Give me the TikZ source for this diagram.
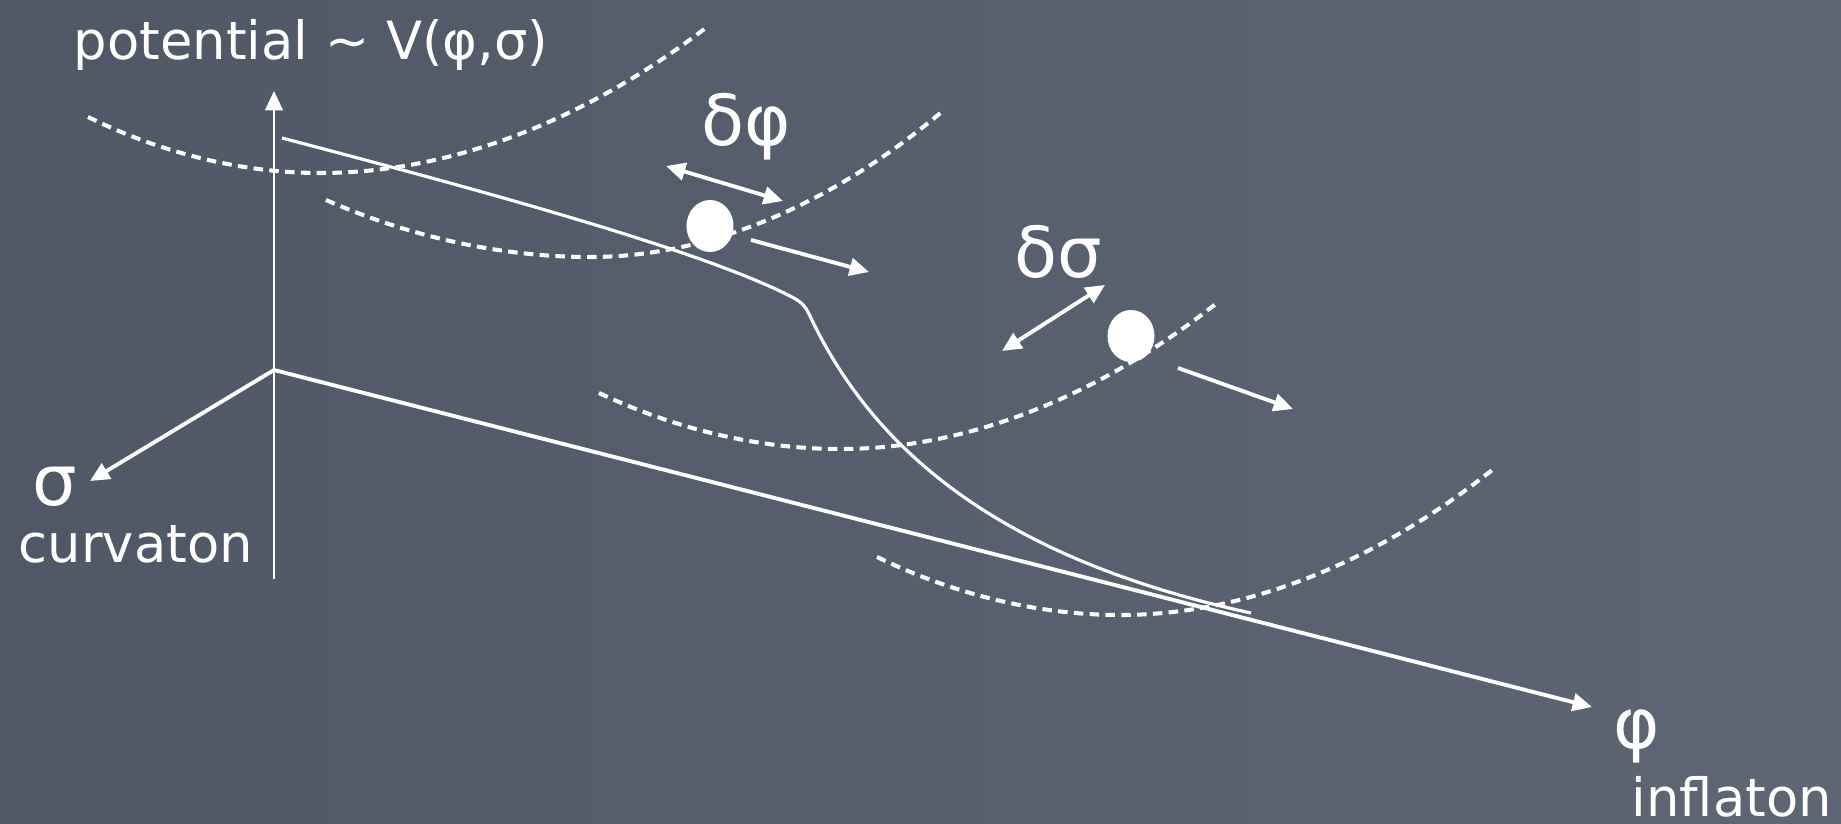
\documentclass[tikz,border=0pt]{standalone}
\usepackage{fontspec}
\setmainfont{DejaVu Sans}
\usepackage{tikz}
\usetikzlibrary{arrows.meta, shapes.geometric}
\definecolor{boarddark}{RGB}{80,88,103}
\definecolor{boardlight}{RGB}{94,102,117}

\tikzset{
  chalk/.style={white, line width=0.9pt},
  chalkdash/.style={white, line width=1.15pt, dash pattern=on 2.7pt off 1.8pt},
  tip/.style={-{Triangle[length=5.5pt,width=5pt]}},
  twotip/.style={{Triangle[length=5.5pt,width=5pt]}-{Triangle[length=5.5pt,width=5pt]}},
  chalktext/.style={white, inner sep=0pt, anchor=base west, font=\fontsize{15}{18}\selectfont},
  greek/.style={chalktext, font=\fontsize{20}{24}\selectfont},
  ball/.style={ellipse, fill=white, inner sep=0pt, minimum width=0.47cm, minimum height=0.52cm}
}

\begin{document}
\begin{tikzpicture}[x=0.01cm, y=-0.01cm]
    \useasboundingbox (0,0) rectangle (1841,824);
    \shade[left color=boarddark, right color=boardlight] (0,0) rectangle (1841,824);

    % Axes
    \coordinate (O) at (274,370);
    \coordinate (vtop) at (274,91);
    \coordinate (vbot) at (274,579);
    \coordinate (sigend) at (90,481);
    \coordinate (phiend) at (1592,707);
    \draw[chalk, line width=0.7pt, tip] (vbot) -- (vtop);
    \draw[chalk, line width=1.1pt, tip] (O) -- (sigend);
    \draw[chalk, line width=1.1pt, tip] (O) -- (phiend);

    % Potential
    \draw[chalk] (282,138) .. controls (480,190) and (700,250) .. (790,296)
        .. controls (800,301) and (805,305) .. (810,316)
        .. controls (871,445) and (993,557) .. (1251,613);

    % Sections in sigma direction
    \draw[chalkdash] (88,117) parabola bend (320,173) (707,27);
    \draw[chalkdash] (326,200) parabola bend (590,257) (944,110);
    \draw[chalkdash] (599,393) parabola bend (840,449) (1217,303);
    \draw[chalkdash] (877,557) parabola bend (1120,615) (1496,467);

    % Fields
    \node[ball] (bphi) at (710,226) {};
    \node[ball] (bsig) at (1131,336) {};

    % Fluctuations and motion
    \coordinate (dphia) at (666,166);
    \coordinate (dphib) at (783,201);
    \coordinate (mphia) at (751,240);
    \coordinate (mphib) at (869,272);
    \coordinate (dsiga) at (1002,351);
    \coordinate (dsigb) at (1105,285);
    \coordinate (msiga) at (1178,368);
    \coordinate (msigb) at (1293,409);
    \draw[chalk, line width=1.1pt, twotip] (dphia) -- (dphib);
    \draw[chalk, line width=1.1pt, tip] (mphia) -- (mphib);
    \draw[chalk, line width=1.1pt, twotip] (dsiga) -- (dsigb);
    \draw[chalk, line width=1.1pt, tip] (msiga) -- (msigb);

    % Labels
    \node[chalktext] (title) at (73,60) {potential \textasciitilde{} V(φ,σ)};
    \node[greek] (dphi) at (701,145) {δφ};
    \node[greek] (dsig) at (1014,277) {δσ};
    \node[greek] (sig) at (32,505) {σ};
    \node[chalktext] (curv) at (18,562) {curvaton};
    \node[greek] (phi) at (1613,748) {φ};
    \node[chalktext] (infl) at (1631,816) {inflaton};
\end{tikzpicture}
\end{document}
